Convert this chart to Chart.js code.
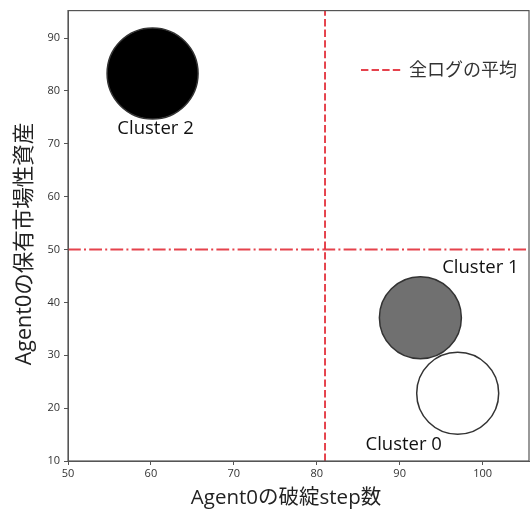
<!DOCTYPE html>
<html>
<head>
<meta charset="utf-8">
<script src="https://cdn.jsdelivr.net/npm/chart.js@4/dist/chart.umd.min.js"></script>
<style>
  html, body { margin: 0; padding: 0; background: #fff; overflow: hidden; }
  #wrap { width: 530px; height: 513px; position: relative; }
</style>
</head>
<body>
<div id="wrap"><canvas id="c" width="530" height="513"></canvas></div>
<script>
// ---- data ----
const clusterNames = ['Cluster 0', 'Cluster 1', 'Cluster 2'];
const bankruptStep = [97.0, 92.5, 60.2];        // x: Agent0の破綻step数
const liquidAssets = [22.8, 37.1, 83.3];        // y: Agent0の保有市場性資産
const clusterRadius = [41, 41, 45.5];           // bubble radius
const meanStep = 81.0;                          // 全ログの平均 (x)
const meanAssets = 50.0;                        // 全ログの平均 (y)
const xTicks = [50, 60, 70, 80, 90, 100];
const yTicks = [10, 20, 30, 40, 50, 60, 70, 80, 90];
const xRange = [50, 105.6];
const yRange = [10, 95.2];
const legendLabel = '全ログの平均';
const xTitle = 'Agent0の破綻step数';
const yTitle = 'Agent0の保有市場性資産';

const fills = ['#ffffff', '#707070', '#000000'];
const labelOffsets = [[-54, 51], [60, -50], [3, 55]];
const red = 'rgba(226,46,56,0.9)';
const FONT = '"Open Sans", "Noto Sans CJK JP", sans-serif';

const bubbleSets = clusterNames.map((n, i) => ({
  type: 'bubble',
  label: n,
  data: [{ x: bankruptStep[i], y: liquidAssets[i], r: clusterRadius[i] }],
  backgroundColor: fills[i],
  borderColor: '#333',
  borderWidth: 1.5,
  hoverRadius: 0,
  clip: false
}));

const meanV = {
  type: 'line', label: legendLabel,
  data: [{ x: meanStep, y: yRange[0] }, { x: meanStep, y: yRange[1] }],
  borderColor: red, borderWidth: 2, borderDash: [7.4, 3.2],
  pointRadius: 0, fill: false
};
const meanH = {
  type: 'line', label: legendLabel + '_h',
  data: [{ x: xRange[0], y: meanAssets }, { x: xRange[1], y: meanAssets }],
  borderColor: red, borderWidth: 2, borderDash: [12.8, 3.2, 2, 3.2],
  pointRadius: 0, fill: false
};

const overlay = {
  id: 'overlay',
  afterDraw(chart) {
    const ctx = chart.ctx;
    const a = chart.chartArea;
    const xs = chart.scales.x, ys = chart.scales.y;
    ctx.save();
    // spines
    ctx.strokeStyle = '#555';
    ctx.lineWidth = 1.2;
    ctx.strokeRect(a.left, a.top, a.right - a.left, a.bottom - a.top);
    // cluster labels
    ctx.fillStyle = '#111';
    ctx.font = '18.5px ' + FONT;
    ctx.textAlign = 'center';
    ctx.textBaseline = 'middle';
    clusterNames.forEach((n, i) => {
      const px = xs.getPixelForValue(bankruptStep[i]) + labelOffsets[i][0];
      const py = ys.getPixelForValue(liquidAssets[i]) + labelOffsets[i][1];
      ctx.fillText(n, px, py);
    });
    // legend
    ctx.strokeStyle = red;
    ctx.lineWidth = 2;
    ctx.setLineDash([7.4, 3.2]);
    ctx.beginPath();
    ctx.moveTo(361, 70); ctx.lineTo(401, 70);
    ctx.stroke();
    ctx.setLineDash([]);
    ctx.fillStyle = '#333';
    ctx.font = '18px ' + FONT;
    ctx.textAlign = 'left';
    ctx.fillText(legendLabel, 409, 71);
    // axis titles
    ctx.fillStyle = '#222';
    ctx.font = '20.5px ' + FONT;
    ctx.textAlign = 'center';
    ctx.fillText(xTitle, 286, 498);
    ctx.translate(25, 244);
    ctx.rotate(-Math.PI / 2);
    ctx.font = '21.5px ' + FONT;
    ctx.fillText(yTitle, 0, 0);
    ctx.restore();
  }
};

new Chart(document.getElementById('c'), {
  data: { datasets: [...bubbleSets, meanV, meanH] },
  options: {
    responsive: false,
    animation: false,
    layout: { autoPadding: false, padding: { top: 10, right: 1, left: 0, bottom: 0 } },
    plugins: { legend: { display: false }, tooltip: { enabled: false } },
    scales: {
      x: {
        type: 'linear', min: xRange[0], max: xRange[1],
        afterFit(s) { s.height = 52; },
        afterBuildTicks(s) { s.ticks = xTicks.map(v => ({ value: v })); },
        ticks: { color: '#333', font: { family: FONT, size: 11 }, padding: 2, maxRotation: 0 },
        grid: { drawOnChartArea: false, drawTicks: true, tickLength: 4, color: '#555' },
        border: { display: true, color: '#555' }
      },
      y: {
        type: 'linear', min: yRange[0], max: yRange[1],
        afterFit(s) { s.width = 68; },
        afterBuildTicks(s) { s.ticks = yTicks.map(v => ({ value: v })); },
        ticks: { color: '#333', font: { family: FONT, size: 11 }, padding: 4 },
        grid: { drawOnChartArea: false, drawTicks: true, tickLength: 4, color: '#555' },
        border: { display: true, color: '#555' }
      }
    }
  },
  plugins: [overlay]
});
</script>
</body>
</html>
